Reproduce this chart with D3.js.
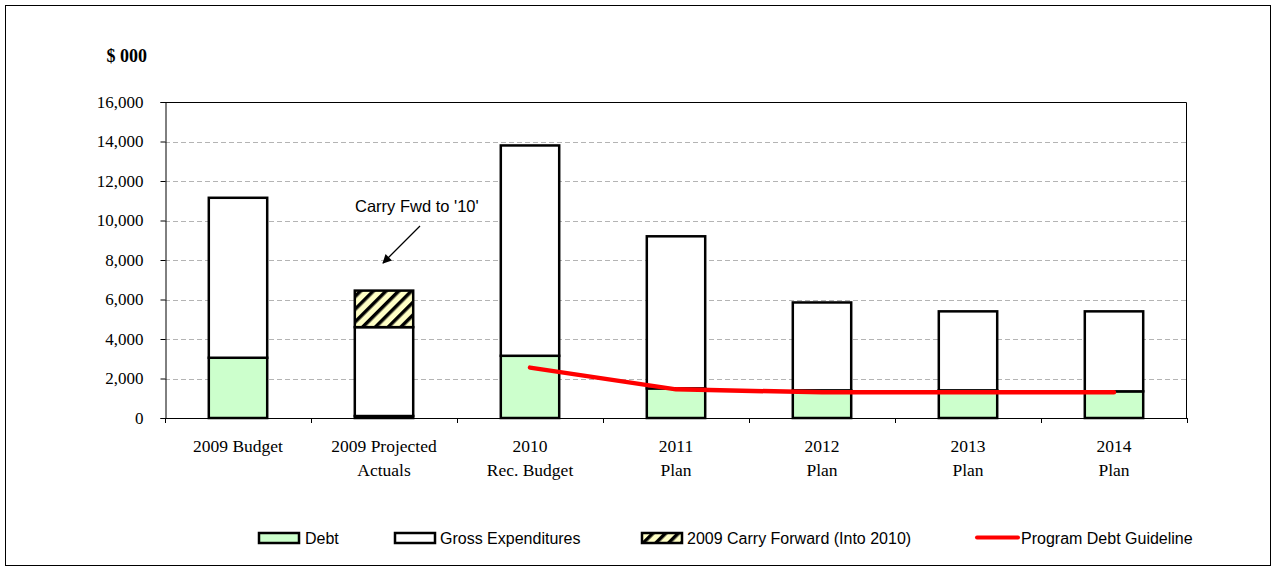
<!DOCTYPE html>
<html>
<head>
<meta charset="utf-8">
<script src="https://cdn.jsdelivr.net/npm/d3@7"></script>
<style>
  html, body { margin: 0; padding: 0; background: #fff; }
  svg { display: block; }
</style>
</head>
<body>
<svg id="chart" width="1275" height="570"></svg>
<script>
// Categories (two-line axis labels)
const categories = ["2009 Budget", "2009 Projected Actuals", "2010 Rec. Budget", "2011 Plan", "2012 Plan", "2013 Plan", "2014 Plan"];
const categoryLines = [["2009 Budget"], ["2009 Projected", "Actuals"], ["2010", "Rec. Budget"], ["2011", "Plan"], ["2012", "Plan"], ["2013", "Plan"], ["2014", "Plan"]];

// Stacked segments ($ 000)
const debt = [3050, 100, 3150, 1500, 1400, 1400, 1350];
const grossExpenditures = [8100, 4500, 10650, 7700, 4450, 4000, 4050];
const carryForward = [0, 1850, 0, 0, 0, 0, 0];

// Program debt guideline (2010 onward)
const guidelineCategories = ["2010 Rec. Budget", "2011 Plan", "2012 Plan", "2013 Plan", "2014 Plan"];
const guidelineValues = [2550, 1450, 1300, 1300, 1300];

const yTicks = [0, 2000, 4000, 6000, 8000, 10000, 12000, 14000, 16000];

const svg = d3.select("#chart");
const plot = { left: 165, right: 1187, top: 102, bottom: 418 };

// Outer chart border
svg.append("rect")
  .attr("x", 5.5).attr("y", 5.5).attr("width", 1265).attr("height", 560)
  .attr("fill", "#fff").attr("stroke", "#000").attr("stroke-width", 1);

// Hatch pattern for carry forward
const defs = svg.append("defs");
const pat = defs.append("pattern")
  .attr("id", "hatch").attr("patternUnits", "userSpaceOnUse")
  .attr("width", 9).attr("height", 9)
  .attr("patternTransform", "rotate(45)");
pat.append("rect").attr("width", 9).attr("height", 9).attr("fill", "#ffffc6");
pat.append("rect").attr("x", 0).attr("y", 0).attr("width", 3.5).attr("height", 9).attr("fill", "#000");

defs.append("marker")
  .attr("id", "arrow").attr("viewBox", "0 0 10 10")
  .attr("refX", 9).attr("refY", 5)
  .attr("markerWidth", 11).attr("markerHeight", 9)
  .attr("markerUnits", "userSpaceOnUse")
  .attr("orient", "auto")
  .append("path").attr("d", "M0,0 L10,5 L0,10 Z").attr("fill", "#000");

const x = d3.scaleBand().domain(categories)
  .range([plot.left, plot.right]).paddingInner(0.6).paddingOuter(0.3);
const y = d3.scaleLinear().domain([0, 16000]).range([plot.bottom, plot.top]);

// Gridlines
svg.append("g").selectAll("line")
  .data(yTicks.filter(d => d > 0 && d < 16000))
  .join("line")
  .attr("x1", plot.left).attr("x2", plot.right)
  .attr("y1", d => Math.round(y(d)) + 0.5).attr("y2", d => Math.round(y(d)) + 0.5)
  .attr("stroke", "#b4b4b4").attr("stroke-width", 1).attr("stroke-dasharray", "5,3");

// Plot frame (top and right)
svg.append("path")
  .attr("d", `M${plot.left},${plot.top + 0.5} H${plot.right - 0.5} V${plot.bottom}`)
  .attr("fill", "none").attr("stroke", "#000").attr("stroke-width", 1);

// Y axis
const yAxis = d3.axisLeft(y).tickValues(yTicks).tickFormat(d3.format(",")).tickSize(5).tickPadding(17);
const gy = svg.append("g").attr("transform", `translate(${plot.left + 0.5},0)`).call(yAxis);
gy.select(".domain").attr("stroke", "#000");
gy.selectAll(".tick line").attr("stroke", "#000");
gy.selectAll(".tick text")
  .attr("font-family", "'Liberation Serif', 'Times New Roman', serif")
  .attr("font-size", 17).attr("fill", "#000");

// X axis (ticks at band boundaries)
svg.append("line")
  .attr("x1", plot.left).attr("x2", plot.right)
  .attr("y1", plot.bottom + 0.5).attr("y2", plot.bottom + 0.5)
  .attr("stroke", "#000");
const step = x.step();
const boundaries = d3.range(categories.length + 1).map(i => plot.left + i * step);
svg.append("g").selectAll("line").data(boundaries).join("line")
  .attr("x1", d => Math.round(d) + 0.5).attr("x2", d => Math.round(d) + 0.5)
  .attr("y1", plot.bottom).attr("y2", plot.bottom + 5)
  .attr("stroke", "#000");

const xl = svg.append("g");
categories.forEach((c, i) => {
  const t = xl.append("text")
    .attr("x", x(c) + x.bandwidth() / 2).attr("y", 452)
    .attr("text-anchor", "middle")
    .attr("font-family", "'Liberation Serif', 'Times New Roman', serif")
    .attr("font-size", 17.5).attr("fill", "#000");
  categoryLines[i].forEach((ln, j) => {
    t.append("tspan").attr("x", x(c) + x.bandwidth() / 2).attr("dy", j === 0 ? 0 : 24).text(ln);
  });
});

// Stacked bars
const rows = categories.map((c, i) => ({ cat: c, debt: debt[i], gross: grossExpenditures[i], carry: carryForward[i] }));
const stack = d3.stack().keys(["debt", "gross", "carry"]);
const series = stack(rows);
const fills = { debt: "#ccffcc", gross: "#ffffff", carry: "url(#hatch)" };

svg.append("g").selectAll("g").data(series).join("g")
  .attr("fill", d => fills[d.key])
  .selectAll("rect").data(d => d.filter(v => v[1] - v[0] > 0)).join("rect")
  .attr("x", d => x(d.data.cat))
  .attr("y", d => y(d[1]))
  .attr("width", x.bandwidth())
  .attr("height", d => y(d[0]) - y(d[1]))
  .attr("stroke", "#000").attr("stroke-width", 2.5);

// Guideline
const line = d3.line().x(d => x(d.cat) + x.bandwidth() / 2).y(d => y(d.v));
svg.append("path")
  .datum(guidelineCategories.map((c, i) => ({ cat: c, v: guidelineValues[i] })))
  .attr("d", line)
  .attr("fill", "none").attr("stroke", "#ff0000").attr("stroke-width", 4.5)
  .attr("stroke-linecap", "round").attr("stroke-linejoin", "round");

// Y-axis unit label
svg.append("text")
  .attr("x", 147).attr("y", 62).attr("text-anchor", "end")
  .attr("font-family", "'Liberation Serif', 'Times New Roman', serif")
  .attr("font-size", 18).attr("font-weight", "bold").text("$ 000");

// Carry forward annotation
svg.append("text")
  .attr("x", 355).attr("y", 212)
  .attr("font-family", "'Liberation Sans', Arial, sans-serif")
  .attr("font-size", 16.5).attr("fill", "#000").text("Carry Fwd to '10'");
svg.append("line")
  .attr("x1", 420).attr("y1", 226).attr("x2", 383).attr("y2", 263)
  .attr("stroke", "#000").attr("stroke-width", 1.3)
  .attr("marker-end", "url(#arrow)");

// Legend
const legend = svg.append("g")
  .attr("font-family", "'Liberation Sans', Arial, sans-serif")
  .attr("font-size", 16).attr("fill", "#000");
const legendItems = [
  { label: "Debt", fill: "#ccffcc", x: 259, tx: 305 },
  { label: "Gross Expenditures", fill: "#ffffff", x: 395, tx: 440 },
  { label: "2009 Carry Forward (Into 2010)", fill: "url(#hatch)", x: 642, tx: 687 }
];
legendItems.forEach(d => {
  legend.append("rect").attr("x", d.x).attr("y", 533).attr("width", 40).attr("height", 10)
    .attr("fill", d.fill).attr("stroke", "#000").attr("stroke-width", 2.5);
  legend.append("text").attr("x", d.tx).attr("y", 544).text(d.label);
});
legend.append("line").attr("x1", 977).attr("x2", 1018).attr("y1", 537.5).attr("y2", 537.5)
  .attr("stroke", "#ff0000").attr("stroke-width", 4).attr("stroke-linecap", "round");
legend.append("text").attr("x", 1021).attr("y", 544).text("Program Debt Guideline");
</script>
</body>
</html>
